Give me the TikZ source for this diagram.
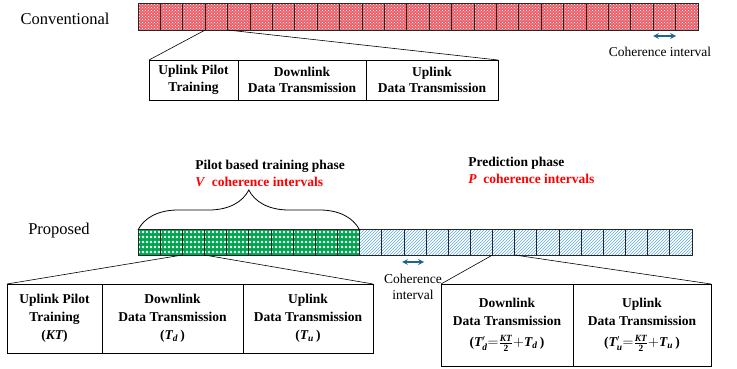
\documentclass[tikz,border=0pt]{standalone}
\usepackage{amsmath}
\usepackage{fontspec}
\setmainfont{Liberation Serif}
\usetikzlibrary{decorations.pathreplacing,patterns,positioning}
\definecolor{cohblue}{RGB}{30,100,140}
\definecolor{cellred}{RGB}{235,95,105}
\definecolor{cellgreen}{RGB}{0,165,80}
\definecolor{lineblue}{RGB}{95,170,230}
\definecolor{phasered}{RGB}{255,0,0}
\newcommand{\bi}[1]{\text{\bfseries\itshape #1}}
\pgfdeclarepatternformonly{bigdots}{\pgfpointorigin}{\pgfpoint{4.43pt}{4.43pt}}{\pgfpoint{4.43pt}{4.43pt}}{%
  \pgfpathcircle{\pgfpoint{2.2pt}{2.2pt}}{1.5pt}\pgfusepath{fill}}

\begin{document}
\begin{tikzpicture}[x=1pt,y=-1pt,semithick,>=stealth,
  cell/.style={draw=black!85,line width=0.8pt,inner sep=0pt,outer sep=0pt},
  redcell/.style={cell,preaction={fill=cellred},pattern=crosshatch dots,pattern color=white,minimum width=22.4pt,minimum height=26.5pt},
  greencell/.style={cell,preaction={fill=cellgreen},pattern=bigdots,pattern color=white,minimum width=22.16pt,minimum height=26pt},
  bluecell/.style={cell,fill=white,pattern=north east lines,pattern color=lineblue,minimum width=22.16pt,minimum height=26pt},
  slot/.style={draw,line width=0.8pt,inner sep=1pt,outer sep=0pt,anchor=north west,align=center,
    font=\fontsize{13.5}{16.5}\selectfont\bfseries},
  slotb/.style={slot,font=\fontsize{13.5}{18}\selectfont\bfseries},
  side/.style={font=\fontsize{16.5}{19}\selectfont},
  small/.style={font=\fontsize{13.5}{16}\selectfont,align=center,inner sep=0pt},
  phase/.style={font=\fontsize{13.5}{17}\selectfont\bfseries,align=left,anchor=north west,inner sep=0pt},
  coh/.style={<->,cohblue,line width=1.6pt}]
\useasboundingbox (0,0) rectangle (737,369);

% Esquema convencional
\node[side] (conv) at (65,19) {Conventional};
\foreach \i in {1,...,25}
  \node[redcell] (c\i) at ({138+(\i-0.5)*22.4},16.75) {};

\node[slot,minimum width=89pt,minimum height=40pt] (ctrain) at (149,60) {Uplink Pilot\\Training};
\node[slot,minimum width=128pt,minimum height=40pt] (cdown) at (ctrain.north east) {Downlink\\Data Transmission};
\node[slot,minimum width=132pt,minimum height=40pt] (cup) at (cdown.north east) {Uplink\\Data Transmission};

\draw (c4.south west) -- (ctrain.north west);
\draw (c4.south east) -- (cup.north east);

% Intervalo de coherencia (arriba)
\coordinate (ca) at (653,36);
\coordinate (cb) at (676,36);
\draw[coh] (ca) -- (cb);
\node[small] (clbl) at (660,52) {Coherence interval};

% Esquema propuesto
\node[side] (prop) at (59,231) {Proposed};
\foreach \i in {1,...,10}
  \node[greencell] (p\i) at ({138+(\i-0.5)*22.16},242) {};
\foreach \i in {11,...,25}
  \node[bluecell] (p\i) at ({138+(\i-0.5)*22.16},242) {};

% Fases
\draw[decorate,decoration={brace,amplitude=40pt},thick] ([yshift=-1pt]p1.north west) -- ([yshift=-1pt]p10.north east);
\node[phase] (trainlbl) at (195,160) {Pilot based training phase\\
  \textcolor{phasered}{\textit{V}\enspace coherence intervals}};
\node[phase] (predlbl) at (468,157) {Prediction phase\\
  \textcolor{phasered}{\textit{P}\enspace coherence intervals}};

% Intervalo de coherencia (abajo)
\coordinate (pa) at (402,262);
\coordinate (pb) at (424,262);
\draw[coh] (pa) -- (pb);
\node[small] (plbl) at (413,287) {Coherence\\interval};

% Desglose de un intervalo
\node[slotb,minimum width=95pt,minimum height=69pt] (ptrain) at (7,284) {Uplink Pilot\\Training\\(\bi{KT})};
\node[slotb,minimum width=141pt,minimum height=69pt] (pdown) at (ptrain.north east) {Downlink\\Data Transmission\\($\bi{T}_{\bi{d}}$\,)};
\node[slotb,minimum width=130pt,minimum height=69pt] (pup) at (pdown.north east) {Uplink\\Data Transmission\\($\bi{T}_{\bi{u}}$\,)};

\draw (p3.south west) -- (ptrain.north west);
\draw (p3.south east) -- (pup.north east);

\node[slotb,minimum width=132pt,minimum height=82pt] (qdown) at (441,284) {Downlink\\Data Transmission\\[3pt]($\bi{T}'_{\bi{d}}{=}\frac{\bi{KT}}{\textbf{2}}{+}\bi{T}_{\bi{d}}$\,)};
\node[slotb,minimum width=138pt,minimum height=82pt] (qup) at (qdown.north east) {Uplink\\Data Transmission\\[3pt]($\bi{T}'_{\bi{u}}{=}\frac{\bi{KT}}{\textbf{2}}{+}\bi{T}_{\bi{u}}$\,)};

\draw (p17.south west) -- (qdown.north west);
\draw (p17.south east) -- (qup.north east);
\end{tikzpicture}
\end{document}
